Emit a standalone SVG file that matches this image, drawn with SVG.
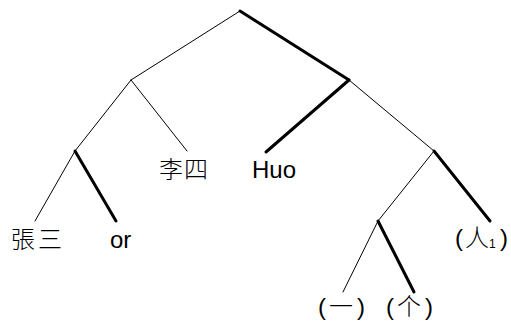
<svg xmlns="http://www.w3.org/2000/svg" width="511" height="322" viewBox="0 0 511 322">
<style>
.thin{stroke:#000;stroke-width:1;fill:none}
.thick{stroke:#000;stroke-width:3;fill:none}
text{font-family:"Liberation Sans","Noto Sans CJK TC",sans-serif;font-size:24px;fill:#000}
.cjk{font-family:"Noto Sans CJK TC",sans-serif;font-weight:300}
</style>
<rect width="511" height="322" fill="#fff"/>
<g id="connectors" stroke-linecap="round">
<line class="thin" x1="240" y1="11" x2="131" y2="80"/>
<line class="thick" x1="240" y1="11" x2="349" y2="80"/>
<line class="thin" x1="131" y1="80" x2="75" y2="151"/>
<line class="thin" x1="131" y1="80" x2="187" y2="151"/>
<line class="thin" x1="75" y1="151" x2="35" y2="221"/>
<line class="thick" x1="75" y1="151" x2="116" y2="221"/>
<line class="thick" x1="349" y1="80" x2="266" y2="152"/>
<line class="thin" x1="349" y1="80" x2="434" y2="151"/>
<line class="thick" x1="434" y1="151" x2="490" y2="221"/>
<line class="thin" x1="434" y1="151" x2="378" y2="221"/>
<line class="thin" x1="378" y1="221" x2="343" y2="292"/>
<line class="thick" x1="378" y1="221" x2="414" y2="292"/>
</g>
<g id="n-zhangsan"><text class="cjk" x="11" y="248" textLength="51">張三</text></g>
<g id="n-or"><text x="110" y="248">or</text></g>
<g id="n-lisi"><text class="cjk" x="159" y="178" textLength="49">李四</text></g>
<g id="n-huo"><text x="252" y="178">Huo</text></g>
<g id="n-ren"><text x="455" y="246">(<tspan class="cjk" x="465">人</tspan><tspan x="489" font-size="12" dy="2">1</tspan><tspan x="500" dy="-2">)</tspan></text></g>
<g id="n-yi"><text x="318" y="315">(<tspan class="cjk" x="329">一</tspan><tspan x="357">)</tspan></text></g>
<g id="n-ge"><text x="386" y="315">(<tspan class="cjk" x="397">个</tspan><tspan x="425">)</tspan></text></g>
</svg>
